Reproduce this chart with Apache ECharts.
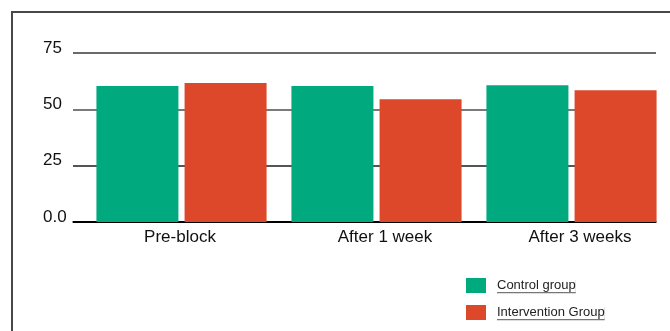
<!DOCTYPE html>
<html>
<head>
<meta charset="utf-8">
<script src="https://cdn.jsdelivr.net/npm/echarts@6/dist/echarts.min.js"></script>
<style>
  html, body { margin: 0; padding: 0; background: #fff; }
  #wrap { position: relative; width: 670px; height: 331px; overflow: hidden; }
  #frame { position: absolute; left: 11px; top: 11px; right: -4px; bottom: -4px;
           border-top: 2px solid #474747; border-left: 2px solid #474747; pointer-events: none; }
  #chart { position: absolute; left: 0; top: 0; width: 670px; height: 331px; }
</style>
</head>
<body>
<div id="wrap">
  <div id="chart"></div>
  <div id="frame"></div>
</div>
<script>
// Measurement periods and group scores
const categories = ['Pre-block', 'After 1 week', 'After 3 weeks'];
const controlGroup = [60.3, 60.3, 60.7];
const interventionGroup = [61.7, 54.5, 58.5];
const yTicks = [0, 25, 50, 75];
const seriesNames = ['Control group', 'Intervention Group'];

// Small horizontal nudges for the category labels (px)
const labelShift = [-1.5, 8.5, 8.5];

const FONT = '"Liberation Sans", Arial, Helvetica, sans-serif';

const chart = echarts.init(document.getElementById('chart'), null, { renderer: 'canvas' });

const labelRich = {};
labelShift.forEach(function (s, i) {
  labelRich['c' + i] = {
    fontFamily: FONT, fontSize: 17, color: '#111',
    padding: s >= 0 ? [0, 0, 0, 2 * s] : [0, -2 * s, 0, 0]
  };
});

chart.setOption({
  animation: false,
  backgroundColor: '#fff',
  grid: [
    // axis frame with horizontal rules
    { left: 73, top: 53, width: 583, height: 169 },
    // plotting band for the bars
    { left: 84, top: 53, width: 585, height: 169 }
  ],
  xAxis: [
    {
      gridIndex: 0, type: 'category', data: categories,
      axisLine: { show: true, lineStyle: { color: '#000', width: 1.5 } },
      axisTick: { show: false }, axisLabel: { show: false }, splitLine: { show: false }
    },
    {
      gridIndex: 1, type: 'category', data: categories,
      axisLine: { show: false }, axisTick: { show: false },
      axisLabel: {
        margin: 7,
        formatter: function (v, i) { return '{c' + i + '|' + v + '}'; },
        rich: labelRich
      }
    }
  ],
  yAxis: [
    {
      gridIndex: 0, type: 'value', min: 0, max: 75, interval: 25,
      axisLine: { show: false }, axisTick: { show: false },
      axisLabel: {
        align: 'left', verticalAlign: 'bottom', lineHeight: 10,
        margin: 30, color: '#111',
        fontFamily: FONT, fontSize: 17,
        formatter: function (v) {
          const i = yTicks.indexOf(v);
          return i === 0 ? '0.0' : String(yTicks[i]);
        }
      },
      splitLine: { show: true, lineStyle: { color: ['#000', '#555', '#7a7a7a', '#6a6a6a'], width: 2 } }
    },
    {
      gridIndex: 1, type: 'value', min: 0, max: 75, interval: 25, show: false,
      splitLine: { show: false }
    }
  ],
  legend: {
    orient: 'vertical', left: 466, top: 278, padding: 0,
    itemWidth: 20, itemHeight: 15, itemGap: 12,
    icon: 'rect',
    data: seriesNames,
    formatter: function (name) { return '{s|}{u|' + name + '}'; },
    textStyle: {
      rich: {
        s: { width: 6 },
        u: {
          fontFamily: FONT, fontSize: 13, color: '#222', lineHeight: 14,
          backgroundColor: '#fff',
          shadowColor: '#777', shadowOffsetY: 1.2, shadowBlur: 0
        }
      }
    }
  },
  series: [
    {
      name: seriesNames[0], type: 'bar', xAxisIndex: 1, yAxisIndex: 1,
      data: controlGroup, barWidth: 82, barGap: '7.5%',
      itemStyle: { color: '#00a97e' }
    },
    {
      name: seriesNames[1], type: 'bar', xAxisIndex: 1, yAxisIndex: 1,
      data: interventionGroup, barWidth: 82, barGap: '7.5%',
      itemStyle: { color: '#dc4829' }
    }
  ]
});
</script>
</body>
</html>
